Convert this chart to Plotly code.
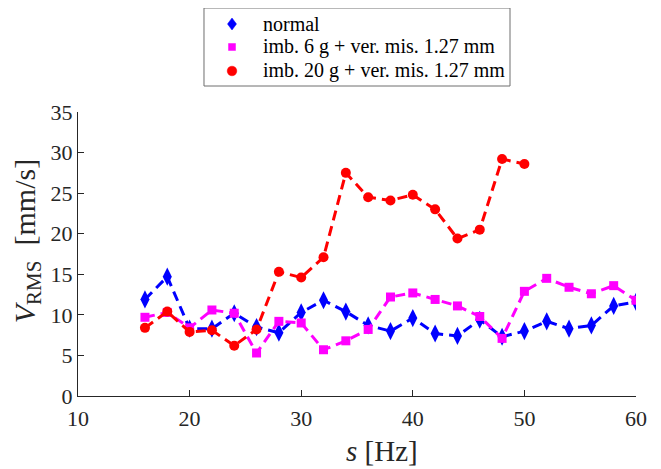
import plotly.graph_objects as go

freq_normal = [16, 18, 20, 22, 24, 26, 28, 30, 32, 34, 36, 38, 40, 42, 44, 46, 48, 50, 52, 54, 56, 58, 60]
v_normal = [11.9, 14.7, 8.3, 8.3, 10.2, 8.5, 7.8, 10.3, 11.8, 10.4, 8.7, 8.0, 9.6, 7.7, 7.4, 9.4, 7.3, 8.0, 9.2, 8.3, 8.7, 11.1, 11.6]

freq_imb6 = [16, 18, 20, 22, 24, 26, 28, 30, 32, 34, 36, 38, 40, 42, 44, 46, 48, 50, 52, 54, 56, 58, 60]
v_imb6 = [9.7, 10.3, 8.4, 10.6, 10.2, 5.3, 9.2, 9.0, 5.7, 6.8, 8.2, 12.2, 12.7, 11.9, 11.1, 9.8, 7.1, 12.9, 14.5, 13.4, 12.6, 13.6, 11.8]

freq_imb20 = [16, 18, 20, 22, 24, 26, 28, 30, 32, 34, 36, 38, 40, 42, 44, 46, 48, 50]
v_imb20 = [8.4, 10.4, 7.9, 8.1, 6.2, 8.2, 15.3, 14.6, 17.1, 27.5, 24.5, 24.1, 24.8, 23.0, 19.4, 20.5, 29.2, 28.6]

series_names = ["normal", "imb. 6 g + ver. mis. 1.27 mm", "imb. 20 g + ver. mis. 1.27 mm"]
series_x = [freq_normal, freq_imb6, freq_imb20]
series_y = [v_normal, v_imb6, v_imb20]
colors = ["#0000ff", "#ff00ff", "#ff0000"]
symbols = ["diamond-tall", "square", "circle"]
sizes = [13, 9, 10]

x_ticks = [10, 20, 30, 40, 50, 60]
y_ticks = [0, 5, 10, 15, 20, 25, 30, 35]

ff = "'Times New Roman', 'Liberation Serif', 'DejaVu Serif', serif"
fig = go.Figure()
for name, xs, ys, color, sym, size in zip(series_names, series_x, series_y, colors, symbols, sizes):
    fig.add_trace(go.Scatter(
        x=xs, y=ys, mode="lines+markers", name=name, showlegend=False,
        line=dict(color=color, width=3, dash="10px,6px"),
        marker=dict(color=color, symbol=sym, size=size),
    ))

# manual legend (box, symbols, labels) positioned in paper coordinates
leg_x0, leg_x1, leg_y0, leg_y1 = 0.2258, 0.7742, 1.0915, 1.3662
leg_sym_x = 0.276
leg_txt_x = 0.328
leg_rows = [1.3099, 1.2289, 1.1444]
fig.add_shape(type="rect", xref="paper", yref="paper",
              x0=leg_x0, x1=leg_x1, y0=leg_y0, y1=leg_y1,
              line=dict(color="#6e6e6e", width=1), fillcolor="white", layer="above")
legend_shapes = [
    dict(type="path", path="M 0 6 L 4.5 0 L 0 -6 L -4.5 0 Z"),
    dict(type="rect", x0=-3.5, x1=3.5, y0=-3.5, y1=3.5),
    dict(type="circle", x0=-4.8, x1=4.8, y0=-4.8, y1=4.8),
]
for name, color, spec, ry in zip(series_names, colors, legend_shapes, leg_rows):
    fig.add_shape(xref="paper", yref="paper", xsizemode="pixel", ysizemode="pixel",
                  xanchor=leg_sym_x, yanchor=ry, fillcolor=color,
                  line=dict(color=color, width=0.5), layer="above", **spec)
    fig.add_annotation(x=leg_txt_x, y=ry, xref="paper", yref="paper",
                       xanchor="left", yanchor="middle", showarrow=False,
                       text=name, font=dict(family=ff, size=20, color="#000000"))

# axis titles
fig.add_annotation(x=0.5448, y=-0.194, xref="paper", yref="paper",
                   xanchor="center", yanchor="middle", showarrow=False,
                   text="<i>s</i> [Hz]", font=dict(family=ff, size=29, color="#262626"))
fig.add_annotation(x=-0.0914, y=0.545, xref="paper", yref="paper",
                   xanchor="center", yanchor="middle", showarrow=False, textangle=-90,
                   text="<i>V</i><sub>RMS</sub>\u00a0 [mm/s]", font=dict(family=ff, size=30, color="#262626"))

fig.update_layout(
    width=653, height=461,
    margin=dict(l=70, r=25, t=104, b=73, autoexpand=False),
    paper_bgcolor="white", plot_bgcolor="white",
    font=dict(family=ff, size=22, color="#262626"),
    showlegend=False,
    xaxis=dict(
        range=[10, 60], tickvals=x_ticks, ticktext=[str(v) for v in x_ticks],
        showgrid=False, zeroline=False, showline=True, linecolor="#262626", linewidth=1,
        ticks="inside", ticklen=6, tickcolor="#262626", automargin=False,
        ticklabelstandoff=3,
        tickfont=dict(family=ff, size=22, color="#262626"),
    ),
    yaxis=dict(
        range=[0, 35], tickvals=y_ticks, ticktext=[str(v) for v in y_ticks],
        showgrid=False, zeroline=False, showline=True, linecolor="#262626", linewidth=1,
        ticks="inside", ticklen=6, tickcolor="#262626", automargin=False,
        tickfont=dict(family=ff, size=22, color="#262626"),
    ),
)

fig.write_html("out.html")
